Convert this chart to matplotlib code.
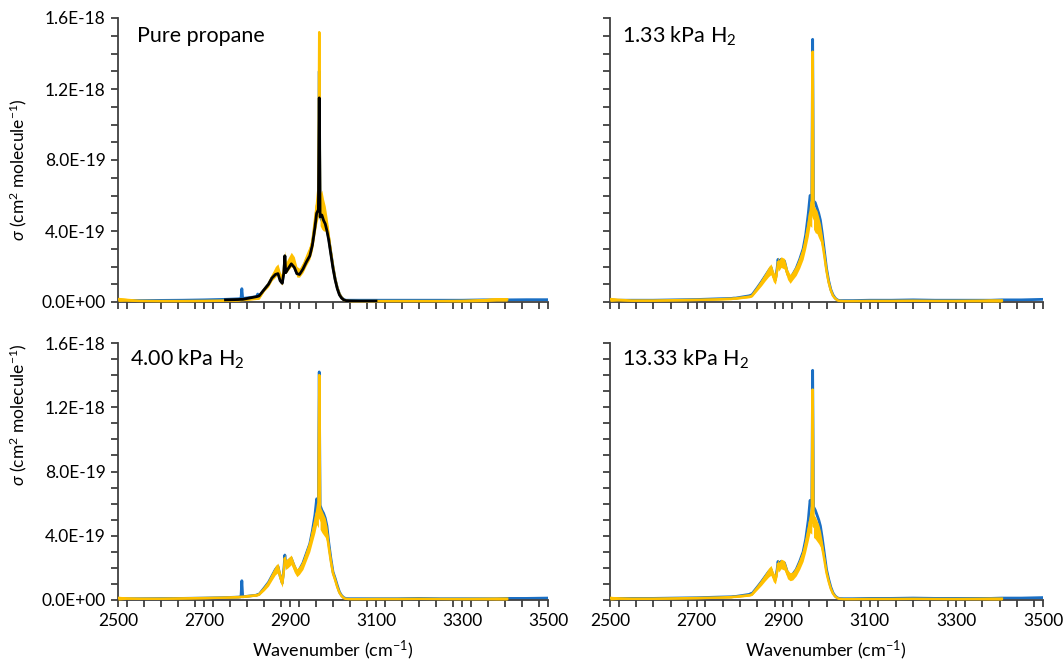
import numpy as np
import matplotlib
matplotlib.use('Agg')
import matplotlib.pyplot as plt
from matplotlib.ticker import MultipleLocator, FixedLocator, FixedFormatter

plt.rcParams['font.family'] = ['Lato', 'DejaVu Sans']
plt.rcParams['mathtext.fontset'] = 'custom'
plt.rcParams['mathtext.rm'] = 'Lato'
plt.rcParams['mathtext.it'] = 'Lato:italic'

nan = np.nan

# ---------------- data (cross sections in units of 1E-19 cm2 molecule-1) -------------
wavenumber = [2500, 2520, 2550, 2600, 2650, 2700, 2750, 2780,
              2786, 2788, 2790,
              2822, 2825, 2828,
              2840, 2850, 2858, 2866, 2872, 2877, 2882, 2886, 2888, 2890,
              2895, 2903, 2910, 2916, 2922, 2930, 2938, 2946, 2952, 2958,
              2962, 2966, 2968, 2970, 2974, 2978, 2982, 2986, 2990, 2995,
              3000, 3005, 3010, 3015, 3020, 3025, 3030, 3040, 3060, 3100,
              3150, 3200, 3250, 3300, 3350, 3380, 3405, 3450, 3500]

panel_titles = ['Pure propane', '1.33 kPa H$_2$', '4.00 kPa H$_2$', '13.33 kPa H$_2$']

# Pure propane
pure_blue = [0.08, 0.08, 0.08, 0.09, 0.10, 0.12, 0.15, 0.18,
             0.2, 0.75, 0.2,
             0.3, 0.45, 0.3,
             0.7, 1.0, 1.35, 1.6, 1.7, 1.3, 1.1, 1.8, 2.6, 1.7,
             1.9, 2.2, 2.0, 1.6, 1.6, 1.9, 2.3, 2.7, 3.3, 4.3,
             5.1, 5.4, 13.0, 4.8, 4.6, 4.4, 4.3, 4.1, 3.6, 2.8,
             2.0, 1.3, 0.8, 0.45, 0.25, 0.14, 0.1, 0.1, 0.1, 0.1,
             0.1, 0.1, 0.1, 0.1, 0.12, 0.12, 0.12, 0.13, 0.13]
pure_orange = [0.15, 0.12, 0.06, 0.05, 0.05, 0.06, 0.08, 0.1,
               0.12, 0.12, 0.12,
               0.2, 0.2, 0.22,
               0.7, 1.0, 1.4, 1.7, 1.85, 1.4, 1.2, 1.9, 2.6, 1.9,
               2.1, 2.4, 2.2, 1.7, 1.65, 1.95, 2.4, 2.8, 3.4, 4.6,
               5.4, 5.7, 15.2, 5.2, 5.2, 4.9, 4.7, 4.3, 3.7, 2.8,
               2.0, 1.3, 0.8, 0.45, 0.25, 0.12, 0.08, 0.05, 0.05, 0.05,
               0.05, 0.05, 0.05, 0.06, 0.1, 0.15, 0.15, nan, nan]
pure_orange_spread = [0.12, 0.08, 0.04, 0.04, 0.04, 0.04, 0.04, 0.05,
                      0.05, 0.05, 0.05,
                      0.06, 0.06, 0.06,
                      0.1, 0.15, 0.2, 0.3, 0.3, 0.3, 0.25, 0.35, 0.3, 0.3,
                      0.35, 0.4, 0.35, 0.3, 0.25, 0.3, 0.35, 0.4, 0.5, 0.8,
                      1.0, 0.9, 0.1, 0.9, 1.1, 0.9, 0.7, 0.5, 0.4, 0.3,
                      0.2, 0.15, 0.1, 0.06, 0.05, 0.04, 0.04, 0.04, 0.04, 0.04,
                      0.04, 0.04, 0.04, 0.06, 0.08, 0.1, 0.1, 0, 0]
pure_black = [nan, nan, nan, nan, nan, nan, 0.12, 0.14,
              0.15, 0.15, 0.15,
              0.3, 0.32, 0.34,
              0.7, 1.0, 1.35, 1.55, 1.6, 1.2, 1.05, 1.7, 2.6, 1.65,
              1.85, 2.15, 1.95, 1.6, 1.55, 1.85, 2.25, 2.6, 3.2, 4.2,
              5.0, 5.2, 11.5, 4.8, 4.9, 4.6, 4.4, 4.0, 3.5, 2.7,
              1.9, 1.25, 0.75, 0.4, 0.22, 0.12, 0.08, 0.06, 0.05, 0.05,
              nan, nan, nan, nan, nan, nan, nan, nan, nan]

# 1.33 kPa H2
h133_blue = [0.1, 0.1, 0.1, 0.1, 0.12, 0.14, 0.18, 0.2,
             0.22, 0.22, 0.22,
             0.35, 0.38, 0.4,
             0.8, 1.15, 1.45, 1.75, 1.95, 1.5, 1.25, 1.9, 2.4, 2.2,
             2.4, 2.3, 1.6, 1.35, 1.55, 1.9, 2.4, 3.0, 3.8, 5.0,
             6.0, 5.9, 14.8, 5.7, 5.6, 5.3, 5.0, 4.6, 3.9, 2.9,
             1.9, 1.2, 0.7, 0.4, 0.22, 0.12, 0.08, 0.08, 0.08, 0.1,
             0.1, 0.12, 0.1, 0.1, 0.1, 0.1, 0.12, 0.12, 0.15]
h133_orange = [0.15, 0.12, 0.08, 0.08, 0.1, 0.12, 0.15, 0.18,
               0.2, 0.2, 0.2,
               0.3, 0.32, 0.35,
               0.75, 1.1, 1.4, 1.7, 1.85, 1.45, 1.25, 1.8, 2.25, 2.05,
               2.25, 2.15, 1.55, 1.3, 1.5, 1.8, 2.25, 2.8, 3.5, 4.3,
               5.0, 4.9, 14.1, 4.8, 4.6, 4.5, 4.2, 3.9, 3.4, 2.6,
               1.75, 1.1, 0.65, 0.35, 0.2, 0.1, 0.06, 0.05, 0.05, 0.06,
               0.06, 0.07, 0.06, 0.06, 0.07, 0.08, 0.08, nan, nan]

# 4.00 kPa H2
h400_blue = [0.08, 0.08, 0.08, 0.09, 0.1, 0.12, 0.15, 0.18,
             0.2, 1.2, 0.2,
             0.3, 0.35, 0.35,
             0.75, 1.1, 1.5, 1.9, 2.1, 1.5, 1.05, 2.0, 2.8, 2.3,
             2.4, 2.6, 2.1, 1.75, 1.9, 2.3, 2.9, 3.5, 4.3, 5.3,
             6.3, 6.0, 14.2, 5.9, 5.6, 5.4, 5.1, 4.6, 3.6, 2.6,
             1.75, 1.35, 0.9, 0.5, 0.28, 0.15, 0.09, 0.08, 0.08, 0.08,
             0.08, 0.1, 0.08, 0.08, 0.08, 0.08, 0.1, 0.1, 0.12]
h400_orange = [0.12, 0.1, 0.08, 0.08, 0.1, 0.12, 0.15, 0.18,
               0.2, 0.2, 0.2,
               0.3, 0.32, 0.35,
               0.7, 1.05, 1.45, 1.85, 2.0, 1.45, 1.05, 1.9, 2.6, 2.2,
               2.3, 2.5, 2.0, 1.7, 1.85, 2.2, 2.8, 3.4, 4.1, 4.8,
               5.4, 5.2, 14.0, 5.1, 4.9, 4.7, 4.5, 4.1, 3.3, 2.4,
               1.65, 1.25, 0.8, 0.45, 0.25, 0.12, 0.07, 0.05, 0.05, 0.06,
               0.06, 0.07, 0.06, 0.06, 0.07, 0.08, 0.08, nan, nan]

# 13.33 kPa H2
h1333_blue = [0.1, 0.1, 0.1, 0.1, 0.12, 0.14, 0.18, 0.2,
              0.22, 0.22, 0.22,
              0.35, 0.4, 0.4,
              0.8, 1.15, 1.45, 1.75, 1.9, 1.5, 1.3, 1.9, 2.4, 2.2,
              2.4, 2.3, 1.7, 1.5, 1.6, 1.9, 2.4, 3.0, 3.8, 5.0,
              6.2, 5.9, 14.3, 5.8, 5.6, 5.3, 5.0, 4.6, 3.9, 2.9,
              1.9, 1.3, 0.8, 0.45, 0.25, 0.14, 0.09, 0.08, 0.08, 0.1,
              0.1, 0.12, 0.1, 0.1, 0.1, 0.1, 0.12, 0.12, 0.15]
h1333_orange = [0.12, 0.1, 0.08, 0.08, 0.1, 0.12, 0.15, 0.18,
                0.2, 0.2, 0.2,
                0.3, 0.32, 0.35,
                0.75, 1.1, 1.4, 1.7, 1.85, 1.45, 1.25, 1.8, 2.25, 2.05,
                2.25, 2.15, 1.6, 1.45, 1.5, 1.8, 2.25, 2.8, 3.5, 4.3,
                4.9, 4.8, 13.1, 4.6, 4.5, 4.3, 4.1, 3.8, 3.3, 2.5,
                1.7, 1.15, 0.7, 0.4, 0.22, 0.12, 0.07, 0.05, 0.05, 0.06,
                0.06, 0.07, 0.06, 0.06, 0.07, 0.08, 0.08, nan, nan]

# noise envelope (half width) of the orange traces in the H2 panels
h2_orange_spread = [0.12, 0.06, 0.04, 0.04, 0.04, 0.04, 0.04, 0.05,
                    0.05, 0.05, 0.05,
                    0.06, 0.06, 0.06,
                    0.12, 0.18, 0.22, 0.28, 0.3, 0.3, 0.25, 0.3, 0.3, 0.3,
                    0.3, 0.3, 0.28, 0.25, 0.25, 0.3, 0.35, 0.4, 0.5, 0.6,
                    0.7, 0.7, 0.1, 0.7, 0.7, 0.65, 0.6, 0.5, 0.4, 0.3,
                    0.2, 0.15, 0.1, 0.06, 0.05, 0.04, 0.04, 0.04, 0.04, 0.04,
                    0.04, 0.04, 0.04, 0.05, 0.06, 0.08, 0.08, 0, 0]

y_tick_values = [0, 4e-19, 8e-19, 1.2e-18, 1.6e-18]
y_tick_labels = ['0.0E+00', '4.0E-19', '8.0E-19', '1.2E-18', '1.6E-18']
x_tick_values = [2500, 2700, 2900, 3100, 3300, 3500]
x_tick_labels = ['2500', '2700', '2900', '3100', '3300', '3500']

# ---------------- figure ----------------
W, H = 1064, 664
fig = plt.figure(figsize=(W / 100, H / 100), dpi=100)

def frac_box(x0, x1, ytop, ybot):
    return [x0 / W, (H - ybot) / H, (x1 - x0) / W, (ybot - ytop) / H]

boxes = [frac_box(118, 548, 18, 302), frac_box(610, 1043, 18, 302),
         frac_box(118, 548, 343, 600), frac_box(610, 1043, 343, 600)]

blues = [pure_blue, h133_blue, h400_blue, h1333_blue]
oranges = [pure_orange, h133_orange, h400_orange, h1333_orange]
spreads = [pure_orange_spread, h2_orange_spread, h2_orange_spread, h2_orange_spread]

BLUE = '#1a6fc4'
ORANGE = '#ffc000'
AXC = '#404040'
scale = 1e-19
x = np.array(wavenumber, dtype=float)

for i, box in enumerate(boxes):
    ax = fig.add_axes(box)
    b = np.array(blues[i]) * scale
    o = np.array(oranges[i]) * scale
    s = np.array(spreads[i]) * scale
    ax.plot(x, b, color=BLUE, lw=2.0, zorder=2)
    ok = ~np.isnan(o)
    ax.fill_between(x[ok], (o - s)[ok], (o + s)[ok], color=ORANGE, lw=0, zorder=3)
    ax.plot(x, o, color=ORANGE, lw=1.8, zorder=3)
    if i == 0:
        ax.plot(x, np.array(pure_black) * scale, color='black', lw=2.0, zorder=4)

    ax.set_xlim(2500, 3500)
    ax.set_ylim(0, 1.6e-18)
    for sp in ['top', 'right']:
        ax.spines[sp].set_visible(False)
    for sp in ['left', 'bottom']:
        ax.spines[sp].set_color(AXC)
        ax.spines[sp].set_linewidth(1.3)
    ax.xaxis.set_major_locator(FixedLocator(x_tick_values))
    ax.xaxis.set_minor_locator(MultipleLocator(40))
    ax.yaxis.set_major_locator(FixedLocator(y_tick_values))
    ax.yaxis.set_minor_locator(MultipleLocator(1e-19))
    ax.tick_params(which='both', direction='out', length=5, width=1.3, color=AXC,
                   labelsize=12.5, labelcolor='black', pad=4)
    if i >= 2:
        ax.xaxis.set_major_formatter(FixedFormatter(x_tick_labels))
    else:
        ax.tick_params(axis='x', which='both', labelbottom=False)
    if i % 2 == 0:
        ax.yaxis.set_major_formatter(FixedFormatter(y_tick_labels))
    else:
        ax.tick_params(axis='y', which='both', labelleft=False)
    ax.set_facecolor('none')
    tx = 0.044 if i == 0 else 0.028
    ty = 0.935
    ax.text(tx, ty, panel_titles[i], transform=ax.transAxes, ha='left', va='center',
            fontsize=15.5, color='black')

ylab = r'$\mathit{\sigma}$ (cm$^{2}$ molecule$^{-1}$)'
fig.text(18 / W, (H - 170) / H, ylab, rotation=90, ha='center', va='center', fontsize=12.5)
fig.text(18 / W, (H - 415) / H, ylab, rotation=90, ha='center', va='center', fontsize=12.5)
fig.text(333 / W, (H - 650) / H, 'Wavenumber (cm$^{-1}$)', ha='center', va='center', fontsize=13)
fig.text(826 / W, (H - 650) / H, 'Wavenumber (cm$^{-1}$)', ha='center', va='center', fontsize=13)

fig.savefig('out.png', dpi=100, facecolor='white')
